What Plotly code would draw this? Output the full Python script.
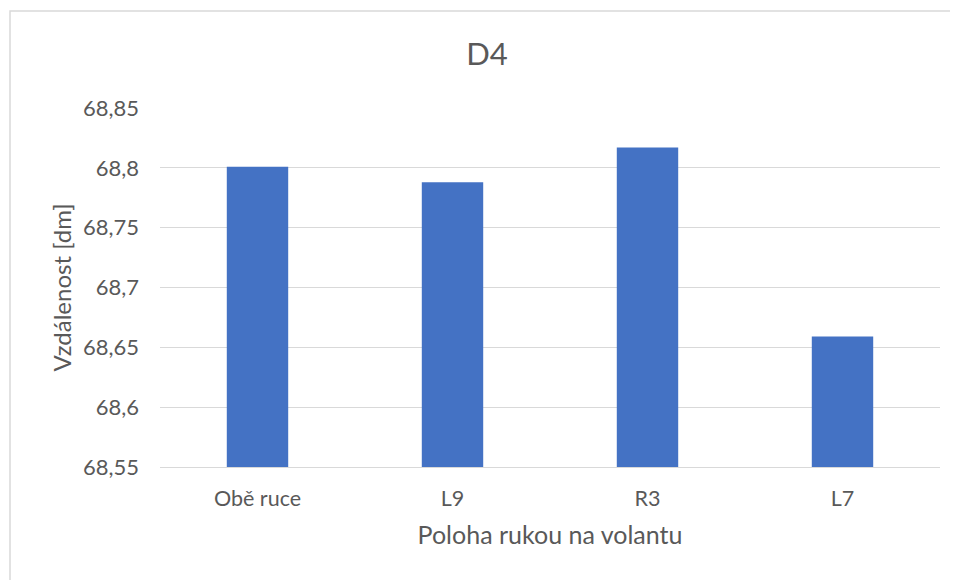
import plotly.graph_objects as go

poloha = ["Obě ruce", "L9", "R3", "L7"]
vzdalenost = [68.801, 68.788, 68.817, 68.659]
y_ticks = [68.55, 68.6, 68.65, 68.7, 68.75, 68.8, 68.85]
y_tick_labels = ["68,55", "68,6", "68,65", "68,7", "68,75", "68,8", "68,85"]

fig = go.Figure(go.Bar(x=poloha, y=vzdalenost, marker_color="#4472C4",
                       marker_line_width=0, width=0.315))

# page body has an 8px margin, so margins are shifted by 8px
fig.update_layout(
    width=958, height=580,
    margin=dict(l=152, r=26, t=100, b=121),
    paper_bgcolor="white", plot_bgcolor="white",
    font=dict(family="Lato, Open Sans, sans-serif", color="#595959"),
    title=dict(text="D4", x=0.5, xanchor="center", y=0.921, yanchor="middle",
               font=dict(size=31, color="#595959")),
    separators=", ",
    showlegend=False,
)
fig.update_yaxes(range=[68.55, 68.85], tickvals=y_ticks, ticktext=y_tick_labels,
                 showgrid=True, gridcolor="#D9D9D9", gridwidth=1.3,
                 zeroline=False, showline=False, ticks="",
                 tickfont=dict(size=22), ticklabelstandoff=20,
                 title=dict(text="Vzdálenost [dm]", font=dict(size=24), standoff=4))
fig.update_xaxes(showline=True, linecolor="#D9D9D9", linewidth=1.3, ticks="",
                 tickfont=dict(size=21.5), ticklabelstandoff=12,
                 title=dict(text="Poloha rukou na volantu", font=dict(size=25), standoff=16))

# chart frame
fig.add_shape(type="rect", xref="paper", yref="paper",
              x0=-0.1923, x1=1.1, y0=-0.5, y1=1.2702,
              line=dict(color="#D9D9D9", width=1.5), layer="below")

fig.write_html("out.html")
